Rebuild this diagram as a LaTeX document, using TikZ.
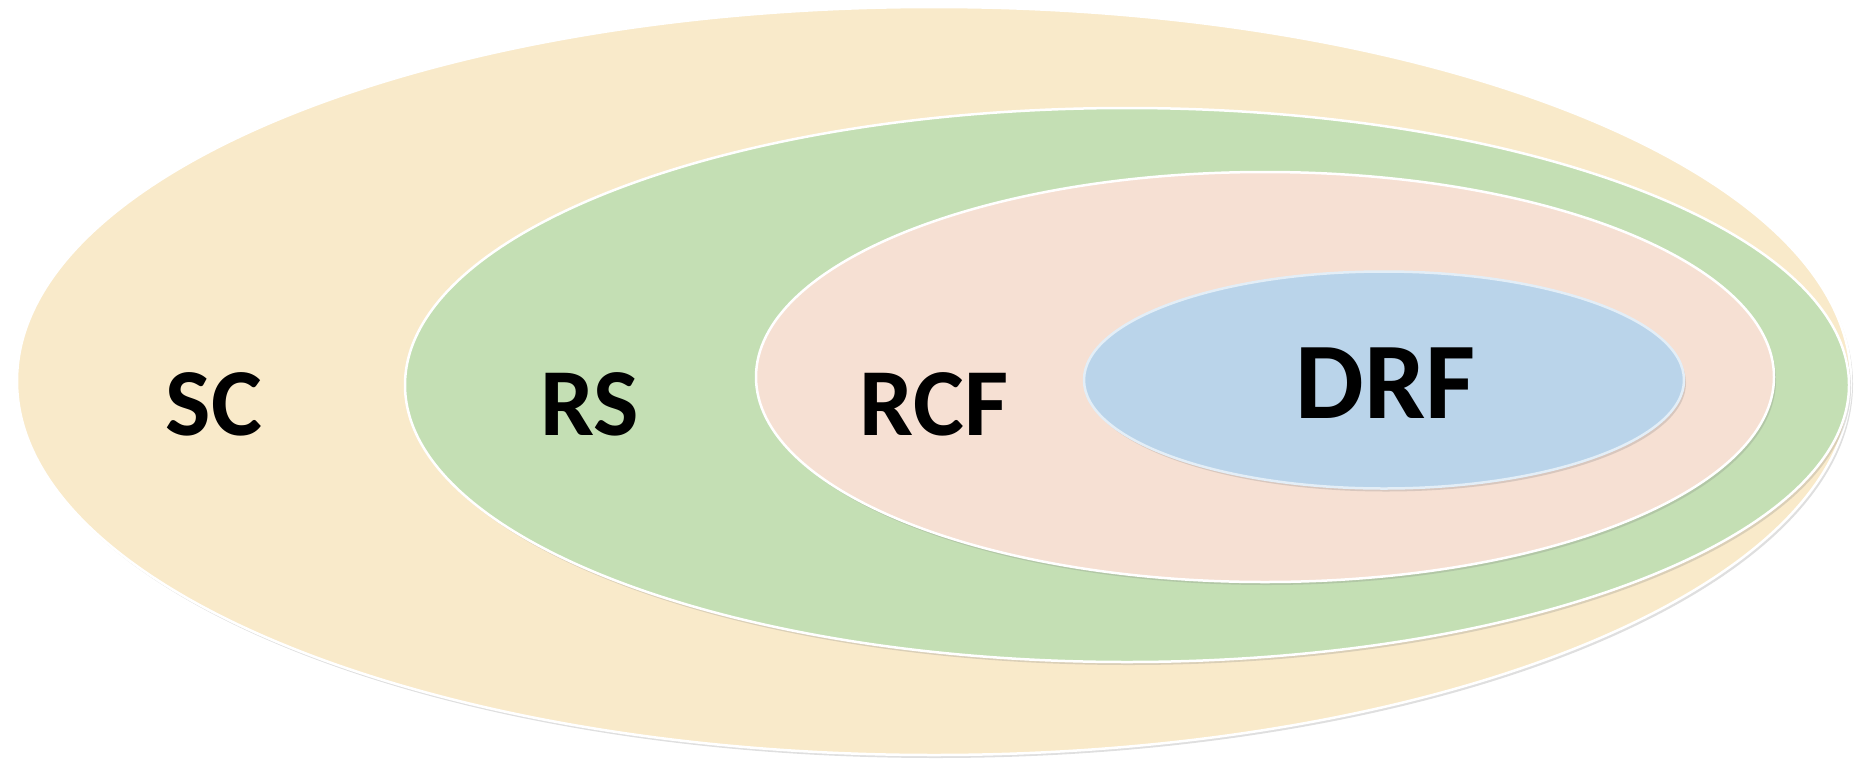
\documentclass[tikz,border=0pt]{standalone}
\usepackage{fontspec}
\setmainfont{Carlito}
\usetikzlibrary{shapes,shadows}
\definecolor{scyellow}{HTML}{F9EACA}
\definecolor{rsgreen}{HTML}{C4DFB4}
\definecolor{rcfpink}{HTML}{F6E0D3}
\definecolor{drfblue}{HTML}{BAD4EA}
\tikzstyle{set}=[ellipse,inner sep=0pt,draw=white,line width=2.5pt,drop shadow={opacity=0.25,shadow xshift=2pt,shadow yshift=-3pt}]
\tikzstyle{setname}=[font=\fontsize{96}{100}\selectfont\bfseries,inner sep=0pt]

\begin{document}
\begin{tikzpicture}[x=1pt,y=-1pt]
	\useasboundingbox (0,0) rectangle (1864,761);

	\node[set,fill=scyellow,minimum width=1834pt,minimum height=748pt] (sc) at (934,381) {};
	\node[set,fill=rsgreen,minimum width=1444pt,minimum height=554pt] (rs) at (1127,385) {};
	\node[set,fill=rcfpink,minimum width=1018pt,minimum height=410pt] (rcf) at (1265,377) {};
	\node[set,fill=drfblue,draw=white!60!drfblue,minimum width=600pt,minimum height=217pt] (drf) at (1384,380) {};

	\node[setname] (sclabel) at (214,404) {SC};
	\node[setname] (rslabel) at (590,404) {RS};
	\node[setname] (rcflabel) at (934,404) {RCF};
	\node[setname,font=\fontsize{109}{112}\selectfont\bfseries] (drflabel) at (1386,383) {DRF};
\end{tikzpicture}
\end{document}
